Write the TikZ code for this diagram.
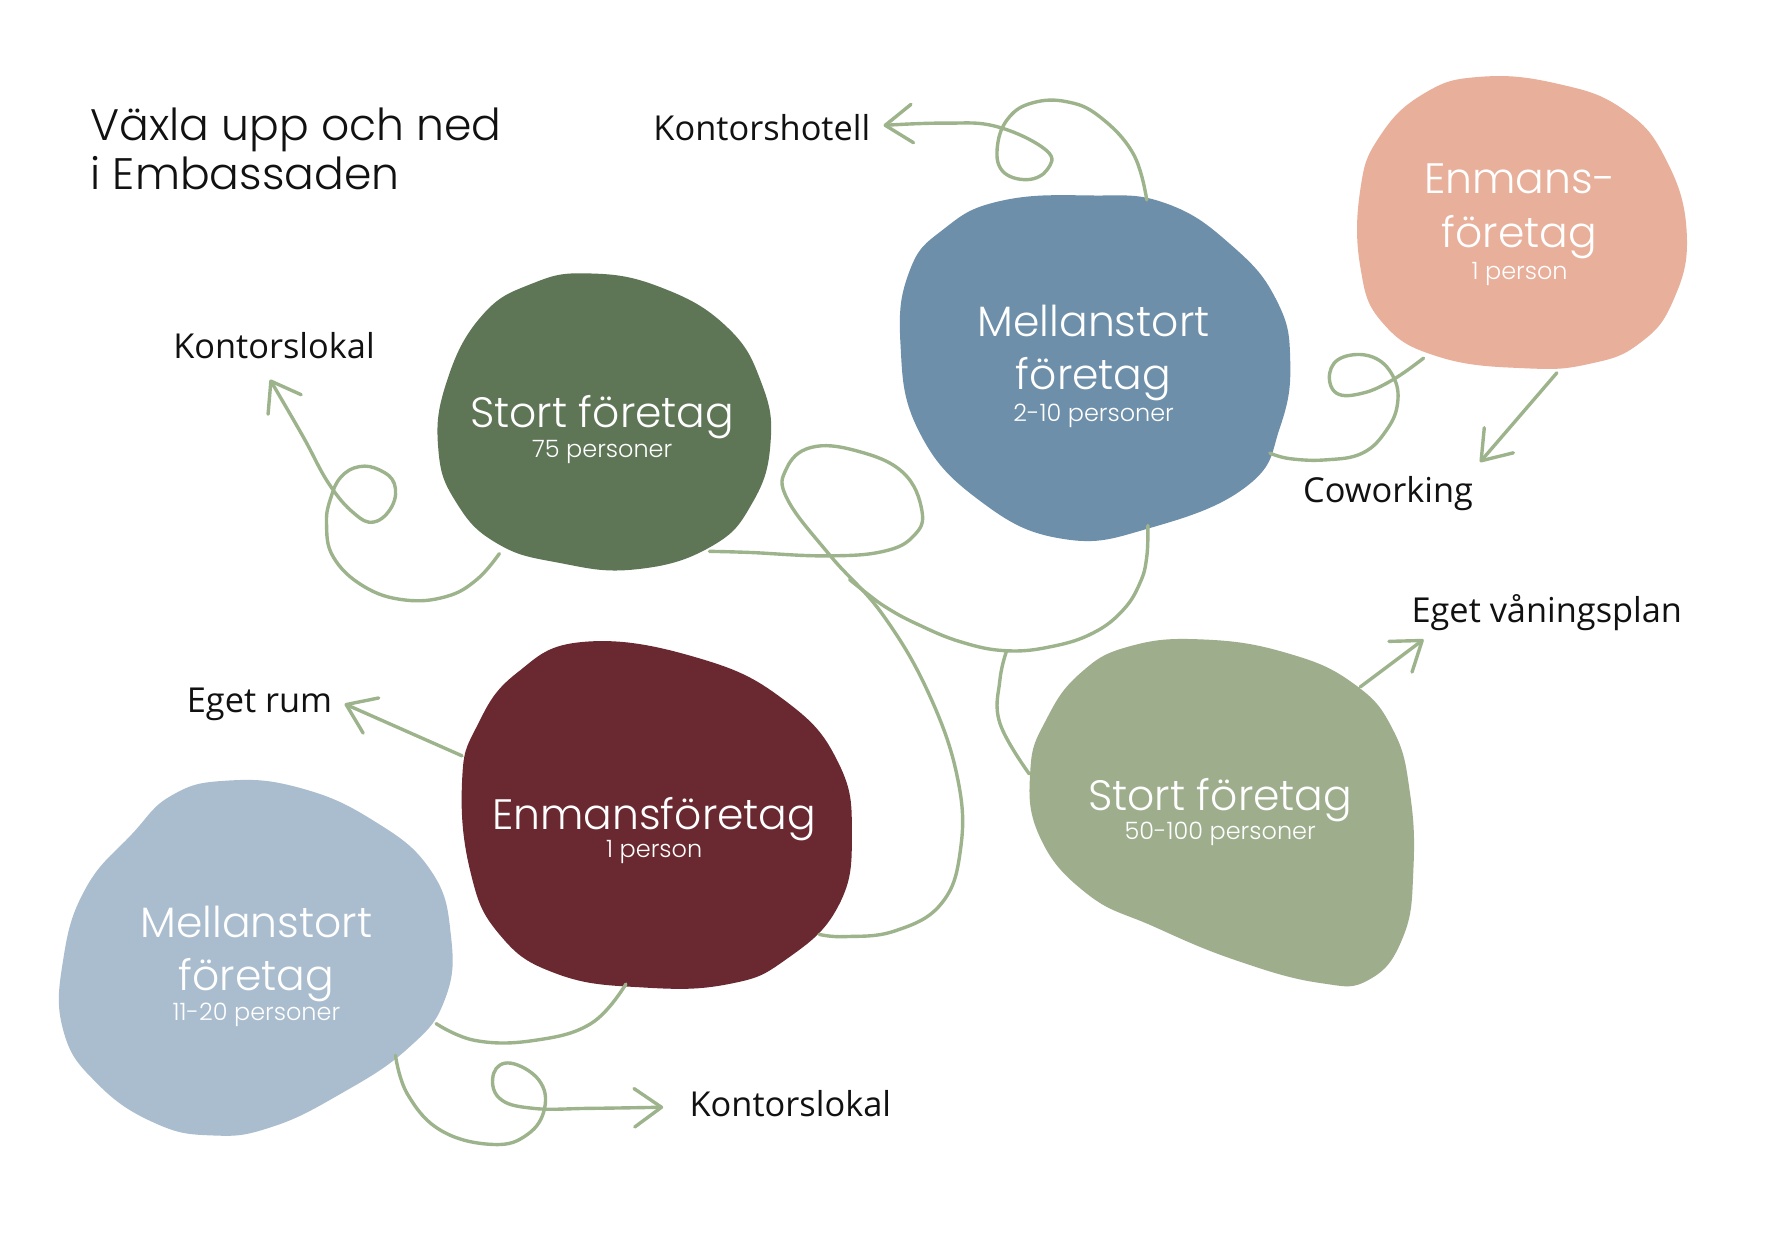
\documentclass[tikz,border=0pt]{standalone}
\usepackage{fontspec}
\setmainfont{Open Sans}
\newfontfamily\gothic{Poppins}[UprightFont=* Light]
\usetikzlibrary{arrows.meta}
\definecolor{cgreen}{HTML}{5E7556}
\definecolor{cblue}{HTML}{6E8FA9}
\definecolor{csalmon}{HTML}{E8AF9B}
\definecolor{csage}{HTML}{9EAE8D}
\definecolor{cmaroon}{HTML}{6A2930}
\definecolor{clblue}{HTML}{AABDCF}
\definecolor{linec}{HTML}{9CB38C}
\definecolor{labc}{HTML}{111111}
\begin{document}
\begin{tikzpicture}[x=0.5pt,y=-0.5pt,
  blob/.style={fill=#1, draw=none},
  conn/.style={draw=linec, line width=1.5pt, line cap=round, line join=round},
  arr/.style={conn, -{Straight Barb[length=12pt,width=17pt,line cap=round,line join=round]}},
  big/.style={text=white, font=\gothic\fontsize{18.8}{22}\selectfont, anchor=base, inner sep=0pt},
  small/.style={text=white, font=\gothic\fontsize{10.6}{12}\selectfont, anchor=base, inner sep=0pt},
  lab/.style={text=labc, font=\fontsize{15.2}{18}\selectfont, anchor=base west, inner sep=0pt},
  ttl/.style={text=labc, font=\gothic\fontsize{19.5}{24}\selectfont, anchor=base west, inner sep=0pt}]
\useasboundingbox (0,0) rectangle (1564,1099);
\fill[white] (0,0) rectangle (1564,1099);

% ---------- blobs ----------
\fill[blob=cgreen] plot[smooth cycle, tension=0.75] coordinates {
 (521,242) (584,254) (643,289) (674,339) (682,392) (666,445) (629,484)
 (562,504) (494,498) (440,481) (404,445) (388,398) (395,339) (426,280) (471,251)};
\fill[blob=cblue] plot[smooth cycle, tension=0.75] coordinates {
 (965,173) (1032,180) (1091,218) (1130,266) (1142,319) (1133,378) (1104,430)
 (1019,467) (941,477) (867,443) (813,381) (797,304) (805,240) (835,203) (885,178)};
\fill[blob=csalmon] plot[smooth cycle, tension=0.75] coordinates {
 (1310,68) (1378,74) (1437,97) (1475,142) (1493,207) (1481,266) (1451,304)
 (1407,322) (1351,326) (1274,316) (1224,286) (1204,236) (1204,168) (1221,121) (1260,83)};
\fill[blob=csage] plot[smooth cycle, tension=0.75] coordinates {
 (1000,572) (1065,566) (1139,578) (1198,605) (1233,646) (1248,702) (1251,770)
 (1242,829) (1212,867) (1168,870) (1094,850) (1021,820) (962,791) (920,740)
 (912,681) (926,637) (956,596)};
\fill[blob=cmaroon] plot[smooth cycle, tension=0.75] coordinates {
 (518,568) (620,583) (696,621) (742,675) (754,738) (742,802) (696,849)
 (645,871) (569,874) (493,862) (442,827) (416,770) (409,691) (422,643) (457,596)};
\fill[blob=clblue] plot[smooth cycle, tension=0.75] coordinates {
 (200,691) (264,697) (330,726) (381,770) (399,827) (394,884) (361,928)
 (300,969) (239,998) (188,1005) (137,994) (86,959) (56,912) (56,849)
 (76,786) (117,738) (152,704)};

% ---------- blob texts ----------
\node[big]   (b1a) at (533,378) {Stort företag};
\node[small] (b1b) at (533,405) {75 personer};
\node[big]   (b2a) at (968,298) {Mellanstort};
\node[big]   (b2b) at (968,345) {företag};
\node[small] (b2c) at (968,373) {2-10 personer};
\node[big]   (b3a) at (1345,171) {Enmans-};
\node[big]   (b3b) at (1345,219) {företag};
\node[small] (b3c) at (1345,247) {1 person};
\node[big]   (b4a) at (1080,717) {Stort företag};
\node[small] (b4b) at (1080,743) {50-100 personer};
\node[big]   (b5a) at (579,734) {Enmansföretag};
\node[small] (b5b) at (579,759) {1 person};
\node[big]   (b6a) at (227,830) {Mellanstort};
\node[big]   (b6b) at (227,877) {företag};
\node[small] (b6c) at (227,903) {11-20 personer};

% ---------- title and labels ----------
\node[ttl] (t1) at (80,124) {Växla upp och ned};
\node[ttl] (t2) at (80,168) {i Embassaden};
\node[lab] (kh) at (578,124) {Kontorshotell};
\node[lab] (kl1) at (153,317) {Kontorslokal};
\node[lab] (cw) at (1153,445) {Coworking};
\node[lab] (ev) at (1249,551) {Eget våningsplan};
\node[lab] (er) at (165,631) {Eget rum};
\node[lab] (kl2) at (610,988) {Kontorslokal};

% ---------- connector end points ----------
\coordinate (pA) at (1015,177);  \coordinate (tA) at (782,111);
\coordinate (pB) at (442,490);   \coordinate (tB) at (239,336);
\coordinate (pC) at (628,488);   \coordinate (qC) at (725,827);
\coordinate (pD) at (1016,465);  \coordinate (qD) at (752,513);
\coordinate (pE) at (891,576);   \coordinate (qE) at (911,685);
\coordinate (pF) at (1260,317);  \coordinate (qF) at (1124,401);
\coordinate (pG) at (1378,330);  \coordinate (tG) at (1310,409);
\coordinate (pH) at (1204,608);  \coordinate (tH) at (1260,566);
\coordinate (pI) at (409,669);   \coordinate (tI) at (305,623);
\coordinate (pJ) at (386,906);   \coordinate (qJ) at (554,871);
\coordinate (pK) at (350,934);   \coordinate (tK) at (587,980);

% ---------- connectors ----------
\draw[arr] plot[smooth, tension=0.7] coordinates {(pA) (1003,136) (973,103) (944,90) (914,91)
  (893,104) (883,128) (887,151) (909,159) (927,150) (926,133) (882,112) (835,109) (tA)};
\draw[arr] plot[smooth, tension=0.7] coordinates {(pB) (422,513) (395,528) (358,531) (322,519)
  (295,493) (289,463) (293,440) (302,422) (318,413) (336,416) (349,428) (347,448) (331,462)
  (313,454) (291,428) (268,386) (tB)};
\draw[conn] plot[smooth, tension=0.7] coordinates {(pC) (664,489) (731,492) (782,488) (809,474)
  (816,452) (799,418) (758,399) (718,396) (696,415) (697,442) (735,492) (782,545) (823,616)
  (848,691) (850,753) (833,800) (792,824) (748,829) (qC)};
\draw[conn] plot[smooth, tension=0.7] coordinates {(pD) (1015,493) (1009,516) (994,540) (968,560)
  (932,572) (891,576) (850,568) (811,552) (785,538) (767,525) (qD)};
\draw[conn] plot[smooth, tension=0.7] coordinates {(pE) (885,602) (885,640) (qE)};
\draw[conn] plot[smooth, tension=0.7] coordinates {(pF) (1233,336) (1206,348) (1183,348) (1177,330)
  (1189,316) (1215,316) (1233,333) (1237,357) (1227,381) (1206,401) (1174,407) (1142,406) (qF)};
\draw[arr] (pG) -- (tG);
\draw[arr] (pH) -- (tH);
\draw[arr] (pI) -- (tI);
\draw[conn] plot[smooth, tension=0.7] coordinates {(pJ) (421,921) (472,921) (523,906) (qJ)};
\draw[arr] plot[smooth, tension=0.7] coordinates {(pK) (361,969) (391,1001) (437,1013) (467,1004)
  (482,981) (477,956) (452,941) (437,950) (442,972) (472,981) (523,981) (tK)};
\end{tikzpicture}
\end{document}
